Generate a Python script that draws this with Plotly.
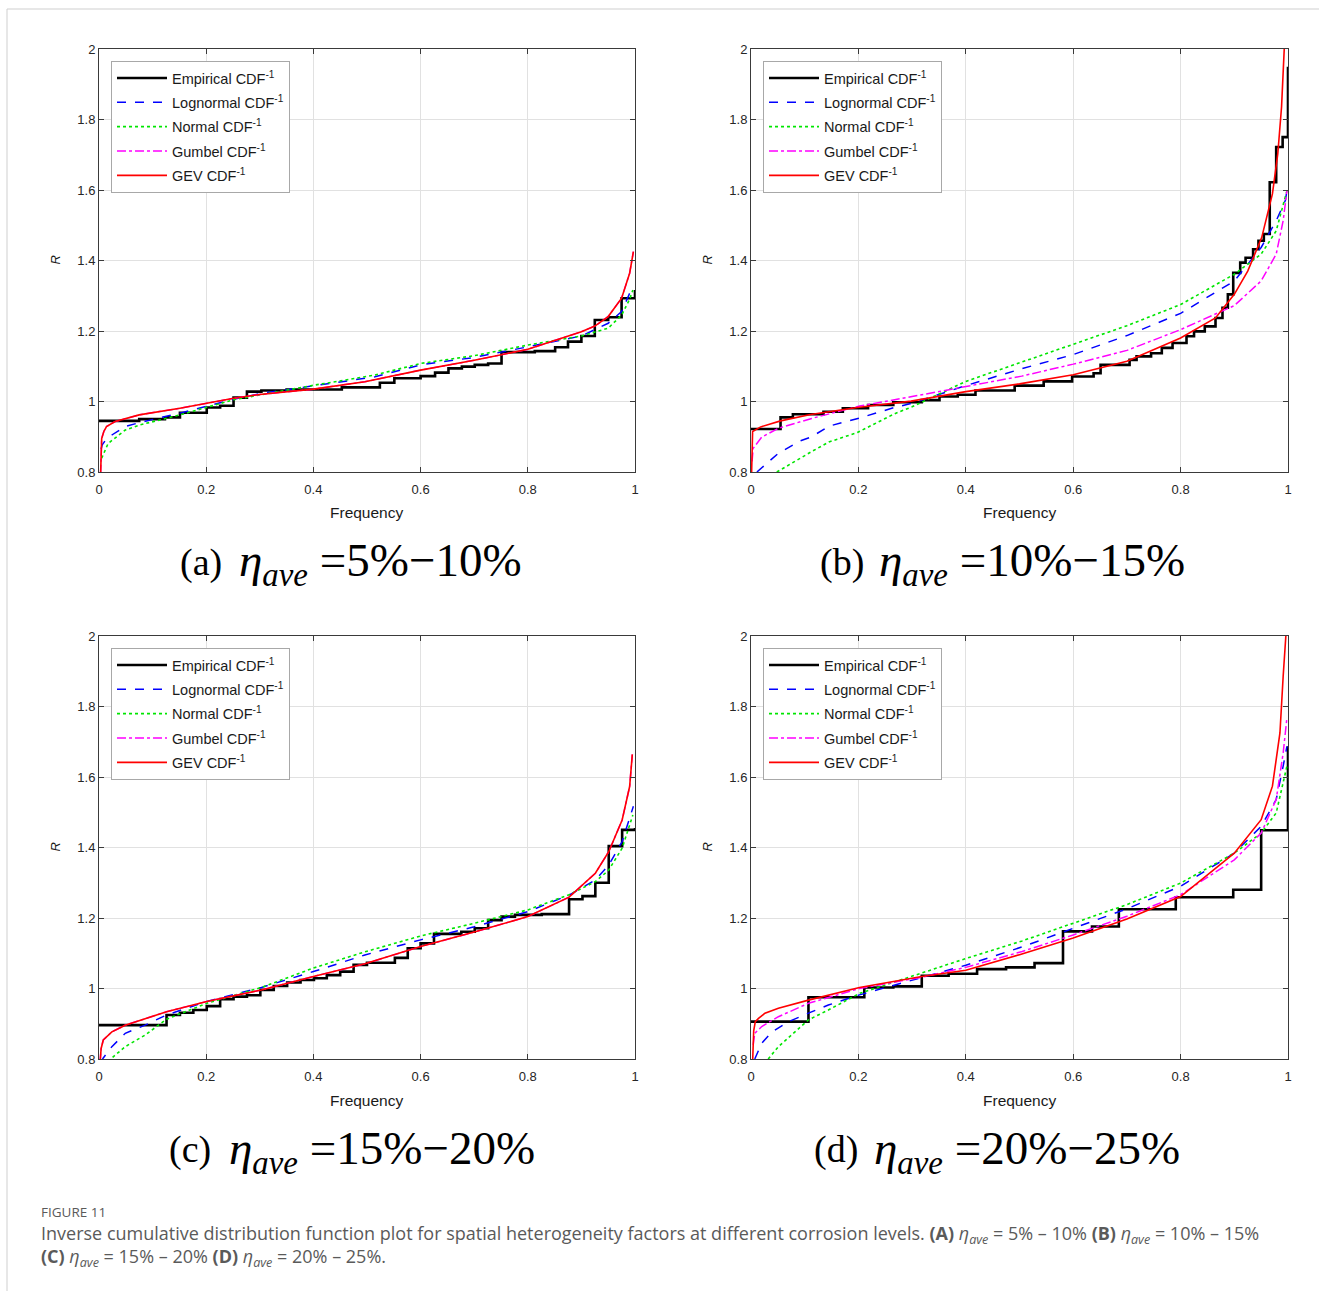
import plotly.graph_objects as go

W, H = 1319, 1291

# ---------------- data ----------------
# Panel (a)  eta_ave = 5%-10%
a_emp_f = [0, 0.075, 0.123, 0.151, 0.201, 0.226, 0.251, 0.276, 0.303, 0.350, 0.453, 0.524, 0.551, 0.600,
           0.627, 0.652, 0.677, 0.701, 0.726, 0.751, 0.813, 0.851, 0.875, 0.900, 0.925, 0.950, 0.975, 1.0]
a_emp_R = [0.945, 0.950, 0.955, 0.968, 0.983, 0.988, 1.011, 1.028, 1.031, 1.034, 1.040, 1.053, 1.066, 1.072,
           1.082, 1.094, 1.099, 1.104, 1.108, 1.140, 1.143, 1.154, 1.170, 1.186, 1.231, 1.239, 1.293, 1.316]
a_logn_f = [0.004, 0.006, 0.012, 0.024, 0.049, 0.075, 0.151, 0.251, 0.303, 0.40, 0.515, 0.60, 0.70, 0.80,
            0.90, 0.95, 0.975, 0.990, 0.996]
a_logn_R = [0.865, 0.877, 0.890, 0.905, 0.929, 0.940, 0.967, 1.006, 1.023, 1.045, 1.070, 1.104, 1.125, 1.155,
            1.186, 1.222, 1.255, 1.307, 1.330]
a_norm_f = [0.005, 0.017, 0.049, 0.075, 0.151, 0.251, 0.40, 0.515, 0.60, 0.70, 0.80, 0.90, 0.95, 0.975,
            0.990, 0.996]
a_norm_R = [0.839, 0.881, 0.919, 0.933, 0.962, 1.005, 1.046, 1.075, 1.108, 1.130, 1.160, 1.186, 1.208, 1.245,
            1.290, 1.316]
a_gev_f = [0.003, 0.005, 0.009, 0.014, 0.030, 0.075, 0.151, 0.251, 0.30, 0.40, 0.496, 0.60, 0.70, 0.80,
           0.90, 0.925, 0.95, 0.975, 0.990, 0.997]
a_gev_R = [0.795, 0.895, 0.915, 0.929, 0.943, 0.962, 0.981, 1.009, 1.020, 1.035, 1.056, 1.089, 1.117, 1.148,
           1.198, 1.214, 1.241, 1.293, 1.364, 1.425]
a_gum_f = [0.003, 0.005, 0.009, 0.014, 0.030, 0.075, 0.151, 0.251, 0.30, 0.40, 0.496, 0.60, 0.70, 0.80,
           0.90, 0.925, 0.95, 0.975, 0.990, 0.997]
a_gum_R = [0.795, 0.895, 0.915, 0.929, 0.943, 0.962, 0.981, 1.009, 1.020, 1.035, 1.056, 1.089, 1.117, 1.148,
           1.198, 1.214, 1.241, 1.293, 1.364, 1.425]

# Panel (b)  eta_ave = 10%-15%
b_emp_f = [0, 0.055, 0.078, 0.135, 0.171, 0.218, 0.265, 0.318, 0.351, 0.385, 0.418, 0.491, 0.545, 0.598,
           0.638, 0.651, 0.705, 0.718, 0.745, 0.765, 0.785, 0.811, 0.825, 0.845, 0.865, 0.878, 0.888, 0.898,
           0.911, 0.921, 0.935, 0.945, 0.955, 0.966, 0.978, 0.990, 1.0]
b_emp_R = [0.922, 0.955, 0.964, 0.971, 0.981, 0.990, 0.998, 1.004, 1.014, 1.019, 1.031, 1.045, 1.057, 1.071,
           1.080, 1.104, 1.118, 1.128, 1.137, 1.152, 1.166, 1.185, 1.199, 1.213, 1.237, 1.266, 1.304, 1.365,
           1.394, 1.408, 1.432, 1.456, 1.475, 1.622, 1.722, 1.750, 1.950]
b_logn_f = [0.011, 0.051, 0.091, 0.113, 0.145, 0.202, 0.267, 0.300, 0.40, 0.504, 0.60, 0.70, 0.80, 0.90,
            0.95, 0.978, 0.995, 0.998]
b_logn_R = [0.80, 0.853, 0.888, 0.900, 0.930, 0.953, 0.983, 0.995, 1.045, 1.093, 1.133, 1.187, 1.250, 1.342,
            1.437, 1.513, 1.570, 1.598]
b_norm_f = [0.048, 0.091, 0.113, 0.145, 0.198, 0.267, 0.300, 0.40, 0.504, 0.60, 0.70, 0.80, 0.90, 0.95,
            0.978, 0.998]
b_norm_R = [0.80, 0.840, 0.858, 0.885, 0.912, 0.965, 0.985, 1.057, 1.112, 1.161, 1.215, 1.275, 1.361, 1.418,
            1.484, 1.598]
b_gum_f = [0.002, 0.004, 0.020, 0.051, 0.113, 0.202, 0.300, 0.40, 0.504, 0.60, 0.70, 0.80, 0.875, 0.90,
           0.95, 0.978, 0.991, 0.998]
b_gum_R = [0.83, 0.867, 0.899, 0.924, 0.952, 0.987, 1.014, 1.042, 1.072, 1.106, 1.145, 1.204, 1.256, 1.272,
           1.342, 1.418, 1.513, 1.598]
b_gev_f = [0.001, 0.003, 0.018, 0.055, 0.111, 0.198, 0.298, 0.40, 0.50, 0.60, 0.70, 0.80, 0.865, 0.90,
           0.925, 0.951, 0.971, 0.981, 0.988, 0.993]
b_gev_R = [0.79, 0.915, 0.928, 0.945, 0.963, 0.983, 1.001, 1.028, 1.050, 1.076, 1.114, 1.180, 1.237, 1.304,
           1.370, 1.465, 1.589, 1.703, 1.836, 2.0]

# Panel (c)  eta_ave = 15%-20%
c_emp_f = [0, 0.126, 0.151, 0.176, 0.201, 0.226, 0.251, 0.276, 0.301, 0.326, 0.351, 0.376, 0.401, 0.425,
           0.450, 0.475, 0.500, 0.552, 0.576, 0.600, 0.625, 0.676, 0.701, 0.726, 0.751, 0.776, 0.826, 0.877,
           0.902, 0.926, 0.951, 0.976, 1.0]
c_emp_R = [0.896, 0.925, 0.931, 0.939, 0.950, 0.970, 0.977, 0.981, 0.996, 1.007, 1.017, 1.024, 1.029, 1.038,
           1.048, 1.067, 1.073, 1.087, 1.114, 1.128, 1.155, 1.161, 1.171, 1.194, 1.204, 1.209, 1.211, 1.253,
           1.262, 1.300, 1.404, 1.450, 1.455]
c_logn_f = [0.003, 0.008, 0.024, 0.049, 0.086, 0.126, 0.201, 0.303, 0.40, 0.496, 0.60, 0.70, 0.80, 0.877,
            0.926, 0.951, 0.976, 0.993, 0.997]
c_logn_R = [0.79, 0.803, 0.835, 0.873, 0.896, 0.925, 0.963, 1.003, 1.048, 1.095, 1.138, 1.175, 1.218, 1.265,
            1.308, 1.350, 1.417, 1.497, 1.517]
c_norm_f = [0.020, 0.024, 0.049, 0.086, 0.126, 0.201, 0.303, 0.40, 0.496, 0.60, 0.70, 0.80, 0.877, 0.926,
            0.951, 0.976, 0.996]
c_norm_R = [0.79, 0.803, 0.835, 0.868, 0.913, 0.958, 1.003, 1.058, 1.104, 1.149, 1.185, 1.223, 1.266, 1.303,
            1.336, 1.398, 1.492]
c_gev_f = [0.002, 0.004, 0.008, 0.024, 0.049, 0.073, 0.126, 0.201, 0.303, 0.40, 0.496, 0.60, 0.70, 0.80,
           0.877, 0.926, 0.951, 0.976, 0.990, 0.995]
c_gev_R = [0.79, 0.83, 0.854, 0.877, 0.896, 0.908, 0.934, 0.963, 0.996, 1.034, 1.070, 1.119, 1.160, 1.204,
           1.259, 1.327, 1.388, 1.478, 1.573, 1.664]
c_gum_f = [0.002, 0.004, 0.008, 0.024, 0.049, 0.073, 0.126, 0.201, 0.303, 0.40, 0.496, 0.60, 0.70, 0.80,
           0.877, 0.926, 0.951, 0.976, 0.990, 0.995]
c_gum_R = [0.79, 0.83, 0.854, 0.877, 0.896, 0.908, 0.934, 0.963, 0.996, 1.034, 1.070, 1.119, 1.160, 1.204,
           1.259, 1.327, 1.388, 1.478, 1.573, 1.664]

# Panel (d)  eta_ave = 20%-25%
d_emp_f = [0, 0.107, 0.211, 0.265, 0.318, 0.368, 0.421, 0.475, 0.528, 0.581, 0.635, 0.685, 0.791, 0.898,
           0.950, 1.0]
d_emp_R = [0.906, 0.975, 1.003, 1.006, 1.036, 1.042, 1.055, 1.060, 1.072, 1.162, 1.176, 1.225, 1.259, 1.280,
           1.449, 1.687]
d_logn_f = [0.007, 0.020, 0.039, 0.070, 0.107, 0.144, 0.202, 0.318, 0.40, 0.505, 0.60, 0.70, 0.80, 0.90,
            0.95, 0.978, 0.991, 0.998]
d_logn_R = [0.80, 0.845, 0.877, 0.906, 0.930, 0.953, 0.982, 1.032, 1.066, 1.118, 1.171, 1.226, 1.290, 1.384,
            1.460, 1.536, 1.631, 1.687]
d_norm_f = [0.032, 0.051, 0.107, 0.144, 0.202, 0.318, 0.40, 0.505, 0.60, 0.70, 0.80, 0.90, 0.95, 0.978,
            0.998]
d_norm_R = [0.80, 0.835, 0.911, 0.939, 0.986, 1.045, 1.085, 1.135, 1.185, 1.238, 1.299, 1.384, 1.441, 1.498,
            1.631]
d_gum_f = [0.004, 0.007, 0.020, 0.051, 0.107, 0.202, 0.318, 0.40, 0.505, 0.60, 0.70, 0.80, 0.90, 0.95,
           0.978, 0.991, 0.998]
d_gum_R = [0.84, 0.873, 0.892, 0.920, 0.958, 1.0, 1.032, 1.060, 1.105, 1.152, 1.205, 1.266, 1.365, 1.441,
           1.536, 1.668, 1.768]
d_gev_f = [0.003, 0.005, 0.008, 0.014, 0.026, 0.051, 0.107, 0.202, 0.318, 0.40, 0.50, 0.60, 0.70, 0.80,
           0.90, 0.95, 0.971, 0.985, 0.991, 0.996]
d_gev_R = [0.79, 0.88, 0.906, 0.915, 0.930, 0.944, 0.967, 1.003, 1.034, 1.052, 1.096, 1.143, 1.197, 1.261,
           1.384, 1.479, 1.574, 1.725, 1.886, 2.0]

x_ticks = [0, 0.2, 0.4, 0.6, 0.8, 1]
x_ticktext = ["0", "0.2", "0.4", "0.6", "0.8", "1"]
y_ticks = [0.8, 1.0, 1.2, 1.4, 1.6, 1.8, 2.0]
y_ticktext = ["0.8", "1", "1.2", "1.4", "1.6", "1.8", "2"]

legend_names = ["Empirical CDF<sup>-1</sup>", "Lognormal CDF<sup>-1</sup>", "Normal CDF<sup>-1</sup>",
                "Gumbel CDF<sup>-1</sup>", "GEV CDF<sup>-1</sup>"]
panel_labels = ["(a)", "(b)", "(c)", "(d)"]
panel_ranges = ["5%\u221210%", "10%\u221215%", "15%\u221220%", "20%\u221225%"]

panels = [
    dict(emp=(a_emp_f, a_emp_R), logn=(a_logn_f, a_logn_R), norm=(a_norm_f, a_norm_R),
         gum=(a_gum_f, a_gum_R), gev=(a_gev_f, a_gev_R)),
    dict(emp=(b_emp_f, b_emp_R), logn=(b_logn_f, b_logn_R), norm=(b_norm_f, b_norm_R),
         gum=(b_gum_f, b_gum_R), gev=(b_gev_f, b_gev_R)),
    dict(emp=(c_emp_f, c_emp_R), logn=(c_logn_f, c_logn_R), norm=(c_norm_f, c_norm_R),
         gum=(c_gum_f, c_gum_R), gev=(c_gev_f, c_gev_R)),
    dict(emp=(d_emp_f, d_emp_R), logn=(d_logn_f, d_logn_R), norm=(d_norm_f, d_norm_R),
         gum=(d_gum_f, d_gum_R), gev=(d_gev_f, d_gev_R)),
]

# ---------------- layout geometry (pixels) ----------------
def px(x):
    return x / W

def py(y):
    return 1 - y / H

col_px = [(99, 635), (751, 1288)]
row_px = [(49, 472), (636, 1059)]
# left edge of "(x)" label and of the eta expression, per panel
label_left = [178, 818, 167, 812]
eq_left = [237, 877, 227, 872]

styles = {
    "emp": dict(color="black", width=2.6, dash="solid"),
    "logn": dict(color="#0000ff", width=1.5, dash="dash"),
    "norm": dict(color="#00e600", width=1.6, dash="dot"),
    "gum": dict(color="#ff00ff", width=1.5, dash="dashdot"),
    "gev": dict(color="#ff0000", width=1.6, dash="solid"),
}
order = ["emp", "logn", "norm", "gum", "gev"]

fig = go.Figure()
sans = "Liberation Sans, Arial, sans-serif"
serif = "Liberation Serif, Times New Roman, serif"
tickfont = dict(family=sans, size=13, color="#262626")
annotations = []

for k, pdata in enumerate(panels):
    r, c = divmod(k, 2)
    idx = "" if k == 0 else str(k + 1)
    xa, ya = "x" + idx, "y" + idx
    leg = "legend" + idx
    for j, key in enumerate(order):
        fx, fy = pdata[key]
        st = styles[key]
        fig.add_trace(go.Scatter(
            x=fx, y=fy, mode="lines",
            line=dict(color=st["color"], width=st["width"], dash=st["dash"],
                      shape="hv" if key == "emp" else "linear"),
            name=legend_names[j], xaxis=xa, yaxis=ya, legend=leg,
            legendgroup=f"{k}-{key}", legendrank=j + 1, showlegend=True,
            hoverinfo="skip"))
    x0, x1 = col_px[c]
    y0, y1 = row_px[r]
    axis_common = dict(showgrid=True, gridcolor="#e1e1e1", gridwidth=1, zeroline=False,
                       showline=True, linecolor="#3a3a3a", linewidth=1, mirror="ticks",
                       ticks="inside", ticklen=5, tickcolor="#3a3a3a", tickfont=tickfont)
    fig.update_layout(**{
        "xaxis" + idx: dict(domain=[px(x0), px(x1)], range=[0, 1], anchor=ya,
                            tickvals=x_ticks, ticktext=x_ticktext, ticklabelstandoff=5, **axis_common),
        "yaxis" + idx: dict(domain=[py(y1), py(y0)], range=[0.8, 2.0], anchor=xa,
                            tickvals=y_ticks, ticktext=y_ticktext, **axis_common),
        leg: dict(x=px(x0 + 12), y=py(y0 + 12), xanchor="left", yanchor="top",
                  bgcolor="white", bordercolor="#a8a8a8", borderwidth=1,
                  font=dict(family=sans, size=14.5, color="#1a1a1a"),
                  itemwidth=50, tracegroupgap=2.5, traceorder="grouped"),
    })
    cx = (x0 + x1) / 2
    annotations.append(dict(text="Frequency", x=px(cx), y=py(y1 + 41), xref="paper", yref="paper",
                            showarrow=False, xanchor="center", yanchor="middle",
                            font=dict(family=sans, size=15.5, color="#1a1a1a")))
    annotations.append(dict(text="<i>R</i>", x=px(x0 - 44), y=py((y0 + y1) / 2), xref="paper", yref="paper",
                            showarrow=False, textangle=-90, xanchor="center", yanchor="middle",
                            font=dict(family=sans, size=13, color="#1a1a1a")))
    annotations.append(dict(text=panel_labels[k], x=px(label_left[k]), y=py(y1 + 90), xref="paper",
                            yref="paper", showarrow=False, xanchor="left", yanchor="middle",
                            font=dict(family=serif, size=38, color="black")))
    eq = f"<i>\u03b7</i><sub><i>ave</i></sub> ={panel_ranges[k]}"
    annotations.append(dict(text=eq, x=px(eq_left[k]), y=py(y1 + 92), xref="paper", yref="paper",
                            showarrow=False, xanchor="left", yanchor="middle",
                            font=dict(family=serif, size=47, color="black")))

cap_font = dict(family="Open Sans, Noto Sans, sans-serif", size=18, color="#5a5a5a")
annotations.append(dict(text="FIGURE 11", x=px(39), y=py(1212), xref="paper", yref="paper", showarrow=False,
                        xanchor="left", yanchor="middle",
                        font=dict(family="Open Sans, Noto Sans, sans-serif", size=13.5, color="#5a5a5a")))
line1 = ("Inverse cumulative distribution function plot for spatial heterogeneity factors at different corrosion "
         "levels. <b>(A)</b> <i>\u03b7</i><sub><i>ave</i></sub> = 5% \u2013 10% <b>(B)</b> "
         "<i>\u03b7</i><sub><i>ave</i></sub> = 10% \u2013 15%")
line2 = ("<b>(C)</b> <i>\u03b7</i><sub><i>ave</i></sub> = 15% \u2013 20% <b>(D)</b> "
         "<i>\u03b7</i><sub><i>ave</i></sub> = 20% \u2013 25%.")
annotations.append(dict(text=line1, x=px(39), y=py(1234), xref="paper", yref="paper", showarrow=False,
                        xanchor="left", yanchor="middle", font=cap_font))
annotations.append(dict(text=line2, x=px(39), y=py(1257), xref="paper", yref="paper", showarrow=False,
                        xanchor="left", yanchor="middle", font=cap_font))

shapes = [
    dict(type="line", xref="paper", yref="paper", x0=px(7), x1=1, y0=py(9), y1=py(9),
         line=dict(color="#cfcfcf", width=1)),
    dict(type="line", xref="paper", yref="paper", x0=px(7), x1=px(7), y0=py(9), y1=0,
         line=dict(color="#cfcfcf", width=1)),
]

fig.update_layout(width=W, height=H, margin=dict(l=0, r=0, t=0, b=0, autoexpand=False),
                  paper_bgcolor="white", plot_bgcolor="white", annotations=annotations, shapes=shapes,
                  showlegend=True)

fig.write_html("out.html")
